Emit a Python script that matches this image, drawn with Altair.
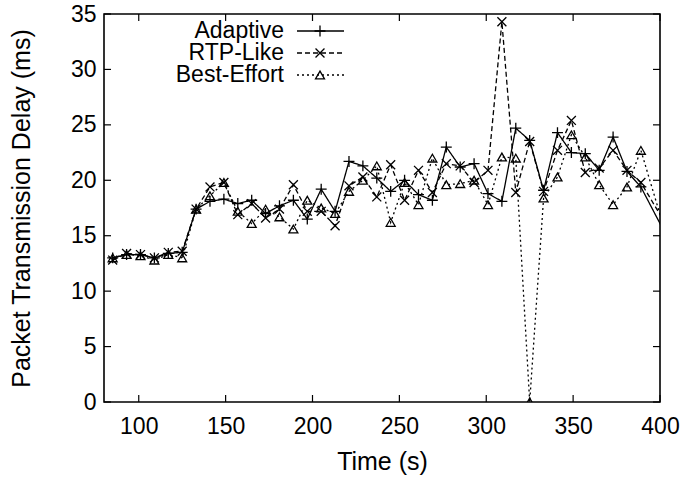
import altair as alt
import pandas as pd

# ---------------- data ----------------
times = [85, 93, 101, 109, 117, 125, 133, 141, 149, 157,
         165, 173, 181, 189, 197, 205, 213, 221, 229, 237,
         245, 253, 261, 269, 277, 285, 293, 301, 309, 317,
         325, 333, 341, 349, 357, 365, 373, 381, 389, 405]

adaptive = [13.0, 13.3, 13.3, 13.0, 13.4, 13.5, 17.4, 18.1, 18.3, 17.9,
            18.2, 17.0, 17.7, 18.2, 16.5, 19.2, 17.2, 21.7, 21.3, 20.2,
            19.0, 20.0, 18.7, 18.2, 23.0, 21.2, 21.5, 18.8, 18.1, 24.7,
            23.6, 19.1, 24.3, 22.5, 22.4, 20.9, 23.9, 20.8, 19.4, 14.6]

rtp_like = [12.8, 13.4, 13.3, 13.0, 13.5, 13.6, 17.4, 19.4, 19.8, 16.9,
            17.9, 16.6, 17.4, 19.6, 17.2, 17.2, 15.9, 19.5, 20.3, 18.5,
            21.4, 18.2, 20.9, 18.9, 21.5, 21.3, 19.8, 20.9, 34.3, 18.9,
            23.5, 19.0, 22.7, 25.4, 20.7, 21.1, 22.7, 20.9, 19.8, 15.6]

best_effort = [13.0, 13.3, 13.2, 12.8, 13.3, 13.0, 17.4, 18.6, 19.8, 17.2,
               16.1, 17.4, 16.7, 15.6, 18.2, 17.5, 17.0, 19.0, 20.0, 21.3,
               16.2, 19.8, 17.8, 22.0, 19.6, 19.7, 20.0, 17.8, 22.1, 22.0,
               0.0, 18.4, 20.3, 24.1, 22.1, 19.6, 17.8, 19.4, 22.7, 14.3]

series_names = ["Adaptive", "RTP-Like", "Best-Effort"]
series_values = [adaptive, rtp_like, best_effort]

x_ticks = [100, 150, 200, 250, 300, 350, 400]
y_ticks = [0, 5, 10, 15, 20, 25, 30, 35]

# ---------------- styling ----------------
W, H = 556, 388
FONT = "Liberation Sans"
FS = 23
TFS = 25
INK = "#000000"

styles = {
    "Adaptive": dict(dash=[1, 0], shape="M-1,0L1,0M0,-1L0,1", size=120),
    "RTP-Like": dict(dash=[5, 3], shape="M-1,-1L1,1M-1,1L1,-1", size=80),
    "Best-Effort": dict(dash=[2, 3], shape="triangle-up", size=80),
}

xscale = alt.Scale(domain=[80, 400], nice=False, zero=False)
yscale = alt.Scale(domain=[0, 35], nice=False, zero=False)

x_axis = alt.Axis(values=x_ticks, ticks=False, domain=False, grid=False,
                  labelFont=FONT, labelFontSize=FS, labelColor=INK,
                  labelPadding=13, labelFlush=False, format="d",
                  title="Time (s)", titleFont=FONT, titleFontSize=TFS,
                  titleFontWeight="normal", titleColor=INK, titlePadding=11)
y_axis = alt.Axis(values=y_ticks, ticks=False, domain=False, grid=False,
                  labelFont=FONT, labelFontSize=FS, labelColor=INK,
                  labelPadding=8, labelFlush=False, format="d",
                  title="Packet Transmission Delay (ms)", titleFont=FONT,
                  titleFontSize=TFS, titleFontWeight="normal", titleColor=INK,
                  titlePadding=36)


def X():
    return alt.X("time:Q", scale=xscale, axis=x_axis)


def Y():
    return alt.Y("delay:Q", scale=yscale, axis=y_axis)


layers = []
for name, vals in zip(series_names, series_values):
    df = pd.DataFrame({"time": times, "delay": vals})
    st = styles[name]
    base = alt.Chart(df)
    line = base.mark_line(color=INK, strokeWidth=1.3, strokeDash=st["dash"],
                          clip=True).encode(x=X(), y=Y())
    pts = base.mark_point(shape=st["shape"], size=st["size"], filled=False,
                          color=INK, strokeWidth=1.3, opacity=1,
                          clip=True).encode(x=X(), y=Y())
    layers += [line, pts]

# inward ticks (gnuplot style), mirrored on all sides
xt = pd.DataFrame({"time": x_ticks})
yt = pd.DataFrame({"delay": y_ticks})
TL = 7
for (ya, yb) in [(H, H - TL), (0, TL)]:
    layers.append(alt.Chart(xt).mark_rule(color=INK, strokeWidth=1.2).encode(
        x=X(), y=alt.value(ya), y2=alt.value(yb)))
for (xa, xb) in [(0, TL), (W, W - TL)]:
    layers.append(alt.Chart(yt).mark_rule(color=INK, strokeWidth=1.2).encode(
        y=Y(), x=alt.value(xa), x2=alt.value(xb)))

# gnuplot-style key (text right-aligned, sample to its right)
key_rows = [17, 39, 61]
for name, ry in zip(series_names, key_rows):
    st = styles[name]
    kd = pd.DataFrame({"label": [name]})
    kb = alt.Chart(kd)
    layers.append(kb.mark_text(align="right", baseline="middle", font=FONT,
                               fontSize=FS, color=INK).encode(
        text="label:N", x=alt.value(180), y=alt.value(ry)))
    layers.append(kb.mark_rule(color=INK, strokeWidth=1.3,
                               strokeDash=st["dash"]).encode(
        x=alt.value(193), x2=alt.value(240), y=alt.value(ry)))
    layers.append(kb.mark_point(shape=st["shape"], size=st["size"],
                                filled=False, color=INK, strokeWidth=1.3,
                                opacity=1).encode(
        x=alt.value(216), y=alt.value(ry)))

chart = alt.layer(*layers).properties(
    width=W, height=H,
    autosize=alt.AutoSizeParams(type="none"),
    padding={"left": 104, "top": 14, "right": 25, "bottom": 82},
    background="white",
).configure_view(stroke=INK, strokeWidth=1.6)

chart.save("out.html", embed_options={"renderer": "svg", "actions": False})
